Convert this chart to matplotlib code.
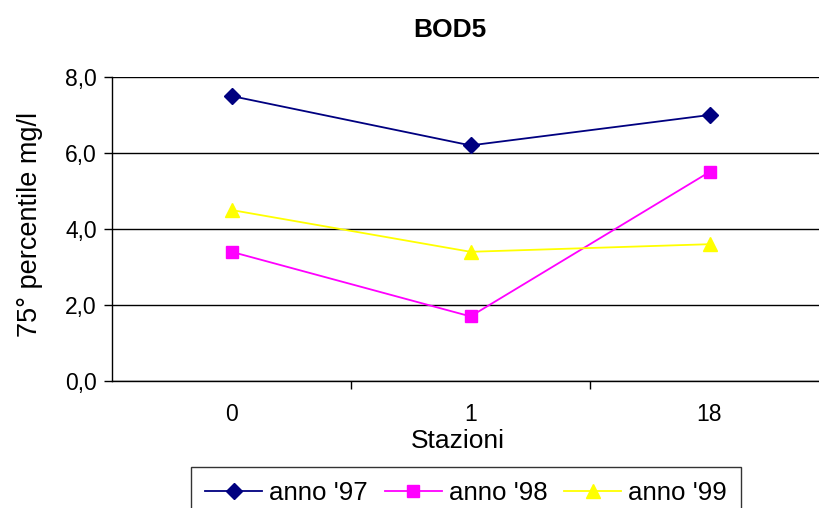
import matplotlib.pyplot as plt

plt.rcParams['font.family'] = ['Liberation Sans', 'DejaVu Sans']

stazioni = ['0', '1', '18']
anno_97 = [7.5, 6.2, 7.0]
anno_98 = [3.4, 1.7, 5.5]
anno_99 = [4.5, 3.4, 3.6]

fig = plt.figure(figsize=(8.19, 5.08), dpi=100)
# plot area runs slightly past the right edge, as in the original
ax = fig.add_axes([112/819, 127/508, 717/819, 304/508])

x = list(range(len(stazioni)))
ax.plot(x, anno_97, color='#000080', marker='D', markersize=8, lw=1.3, label="anno '97")
ax.plot(x, anno_98, color='#FF00FF', marker='s', markersize=9, lw=1.3, label="anno '98")
ax.plot(x, anno_99, color='#FFFF00', marker='^', markersize=10, lw=1.3, label="anno '99")

ax.set_xlim(-0.5, 2.5)
ax.set_ylim(0, 8)
ax.set_yticks([0, 2, 4, 6, 8])
ax.set_yticklabels(['0,0', '2,0', '4,0', '6,0', '8,0'])
ax.set_xticks(x)
ax.set_xticklabels(stazioni)
ax.set_xticks([0.5, 1.5], minor=True)
ax.tick_params(axis='x', which='major', length=0, pad=16, labelsize=16.5)
ax.tick_params(axis='x', which='minor', length=6, direction='out', width=1)
ax.tick_params(axis='y', length=6, direction='out', width=1, labelsize=16.5, pad=5)

ax.yaxis.grid(True, color='black', lw=1)
ax.set_axisbelow(True)
for s in ['top', 'right']:
    ax.spines[s].set_visible(False)
ax.spines['left'].set_linewidth(1)
ax.spines['bottom'].set_linewidth(1)

ax.set_xlabel('Stazioni', fontsize=19)
ax.xaxis.set_label_coords((458 - 112) / 717, -(441 - 381) / 304)
ax.xaxis.label.set_va('center')
ax.set_ylabel('75° percentile mg/l', fontsize=19.5)
ax.yaxis.set_label_coords(-(112 - 30) / 717, (381 - 224) / 304)
ax.yaxis.label.set_va('center')
fig.text(450/819, 1 - 30/508, 'BOD5', ha='center', va='center', fontsize=19, fontweight='bold')

leg = fig.legend(loc='upper center', bbox_to_anchor=(466/819, 1 - 467/508), ncol=3,
                 fontsize=18.6, frameon=True, fancybox=False, edgecolor='black',
                 handlelength=2.2, columnspacing=0.66, handletextpad=0.27,
                 borderpad=0.55, borderaxespad=0)
leg.get_frame().set_linewidth(1)

fig.savefig('out.png', dpi=100)
